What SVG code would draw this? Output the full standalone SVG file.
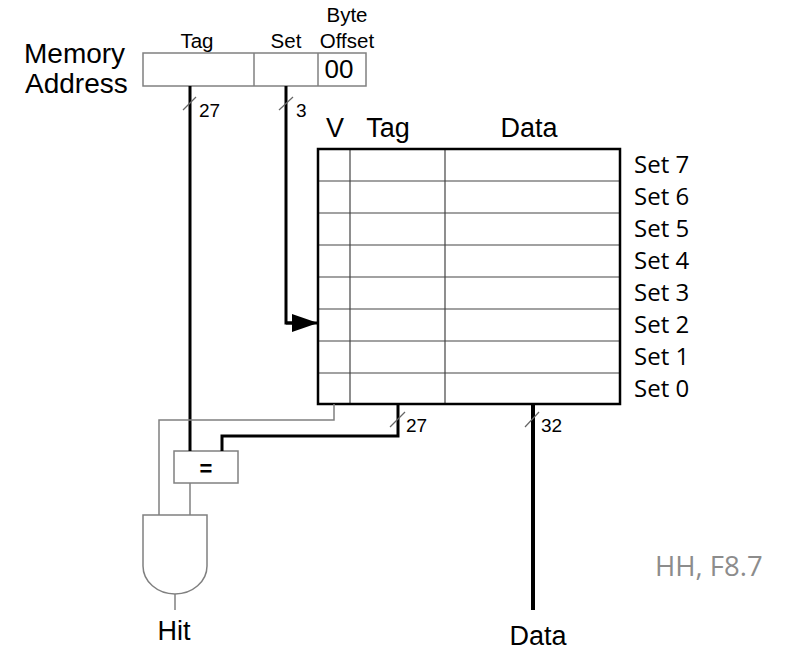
<svg xmlns="http://www.w3.org/2000/svg" width="791" height="652" viewBox="0 0 791 652">
<defs>
<style>
.a{font-family:"Liberation Sans",Arial,sans-serif;fill:#000}
.c{font-family:"Open Sans","Noto Sans",sans-serif;fill:#000;font-size:24px}
.thin{stroke:#808080;stroke-width:1.5;fill:none}
.bus{stroke:#000;stroke-width:3;fill:none}
.grid{stroke:#444;stroke-width:1.2;fill:none}
.sl{stroke:#666;stroke-width:1.2}
</style>
<marker id="arr" markerWidth="26" markerHeight="18" refX="26" refY="9" orient="auto" markerUnits="userSpaceOnUse">
<path d="M0,0 L26,9 L0,18 Z" fill="#000"/>
</marker>
</defs>
<rect width="791" height="652" fill="#fff"/>

<g id="address">
<text class="a" x="24" y="63" font-size="28">Memory</text>
<text class="a" x="25" y="93" font-size="28">Address</text>
<text class="a" x="197" y="48" font-size="20.5" text-anchor="middle">Tag</text>
<text class="a" x="286" y="48" font-size="20.5" text-anchor="middle">Set</text>
<text class="a" x="347" y="22" font-size="20.5" text-anchor="middle">Byte</text>
<text class="a" x="347" y="48" font-size="20.5" text-anchor="middle">Offset</text>
<rect x="143" y="53" width="223" height="33" class="thin"/>
<line x1="254" y1="53" x2="254" y2="86" class="thin"/>
<line x1="318" y1="53" x2="318" y2="86" class="thin"/>
<text class="a" x="339" y="78" font-size="26" text-anchor="middle">00</text>
</g>

<g id="cache">
<text class="a" x="335" y="137" font-size="27" text-anchor="middle">V</text>
<text class="a" x="388" y="137" font-size="27" text-anchor="middle">Tag</text>
<text class="a" x="529" y="137" font-size="27" text-anchor="middle">Data</text>
<g class="grid">
<line x1="318" y1="181" x2="620" y2="181"/>
<line x1="318" y1="213" x2="620" y2="213"/>
<line x1="318" y1="245" x2="620" y2="245"/>
<line x1="318" y1="277" x2="620" y2="277"/>
<line x1="318" y1="309" x2="620" y2="309"/>
<line x1="318" y1="341" x2="620" y2="341"/>
<line x1="318" y1="373" x2="620" y2="373"/>
<line x1="350" y1="149" x2="350" y2="404"/>
<line x1="445" y1="149" x2="445" y2="404"/>
</g>
<rect x="318" y="149" width="302" height="255" fill="none" stroke="#000" stroke-width="2.5"/>
<text class="c" x="634" y="173">Set 7</text>
<text class="c" x="634" y="205">Set 6</text>
<text class="c" x="634" y="237">Set 5</text>
<text class="c" x="634" y="269">Set 4</text>
<text class="c" x="634" y="301">Set 3</text>
<text class="c" x="634" y="333">Set 2</text>
<text class="c" x="634" y="365">Set 1</text>
<text class="c" x="634" y="397">Set 0</text>
</g>

<g id="comparator">
<rect x="174" y="451" width="64" height="32" fill="#fff" stroke="#808080" stroke-width="1.5"/>
<text class="a" x="206" y="476" font-size="22" font-weight="bold" text-anchor="middle">=</text>
</g>

<g id="andgate">
<path d="M143,515 L207,515 L207,566 A32,28 0 0 1 143,566 Z" fill="#fff" stroke="#808080" stroke-width="1.5"/>
</g>

<g id="labels">
<text class="a" x="174" y="640" font-size="27" text-anchor="middle">Hit</text>
<text class="a" x="538" y="645" font-size="27" text-anchor="middle">Data</text>
<text class="c" x="655" y="576" style="fill:#8c8c8c;font-size:27.5px">HH, F8.7</text>
</g>

<g id="connectors">
<line x1="190" y1="86" x2="190" y2="451" class="bus"/>
<polyline points="286,86 286,323 292,323" class="bus"/>
<line x1="286" y1="323" x2="318" y2="323" stroke="#000" stroke-width="3" marker-end="url(#arr)"/>
<polyline points="398,404 398,436 222,436 222,451" class="bus"/>
<line x1="533" y1="404" x2="533" y2="610" stroke="#000" stroke-width="4"/>
<polyline points="334,404 334,420 159,420 159,515" class="thin"/>
<line x1="190" y1="483" x2="190" y2="515" class="thin"/>
<line x1="175" y1="594" x2="175" y2="610" class="thin"/>
<line x1="183" y1="110" x2="196" y2="97" class="sl"/>
<line x1="279" y1="110" x2="293" y2="97" class="sl"/>
<line x1="390" y1="427" x2="405" y2="412" class="sl"/>
<line x1="525" y1="427" x2="539" y2="412" class="sl"/>
<text class="a" x="199" y="117" font-size="19">27</text>
<text class="a" x="296" y="117" font-size="19">3</text>
<text class="a" x="406" y="432" font-size="19">27</text>
<text class="a" x="541" y="432" font-size="19">32</text>
</g>
</svg>
